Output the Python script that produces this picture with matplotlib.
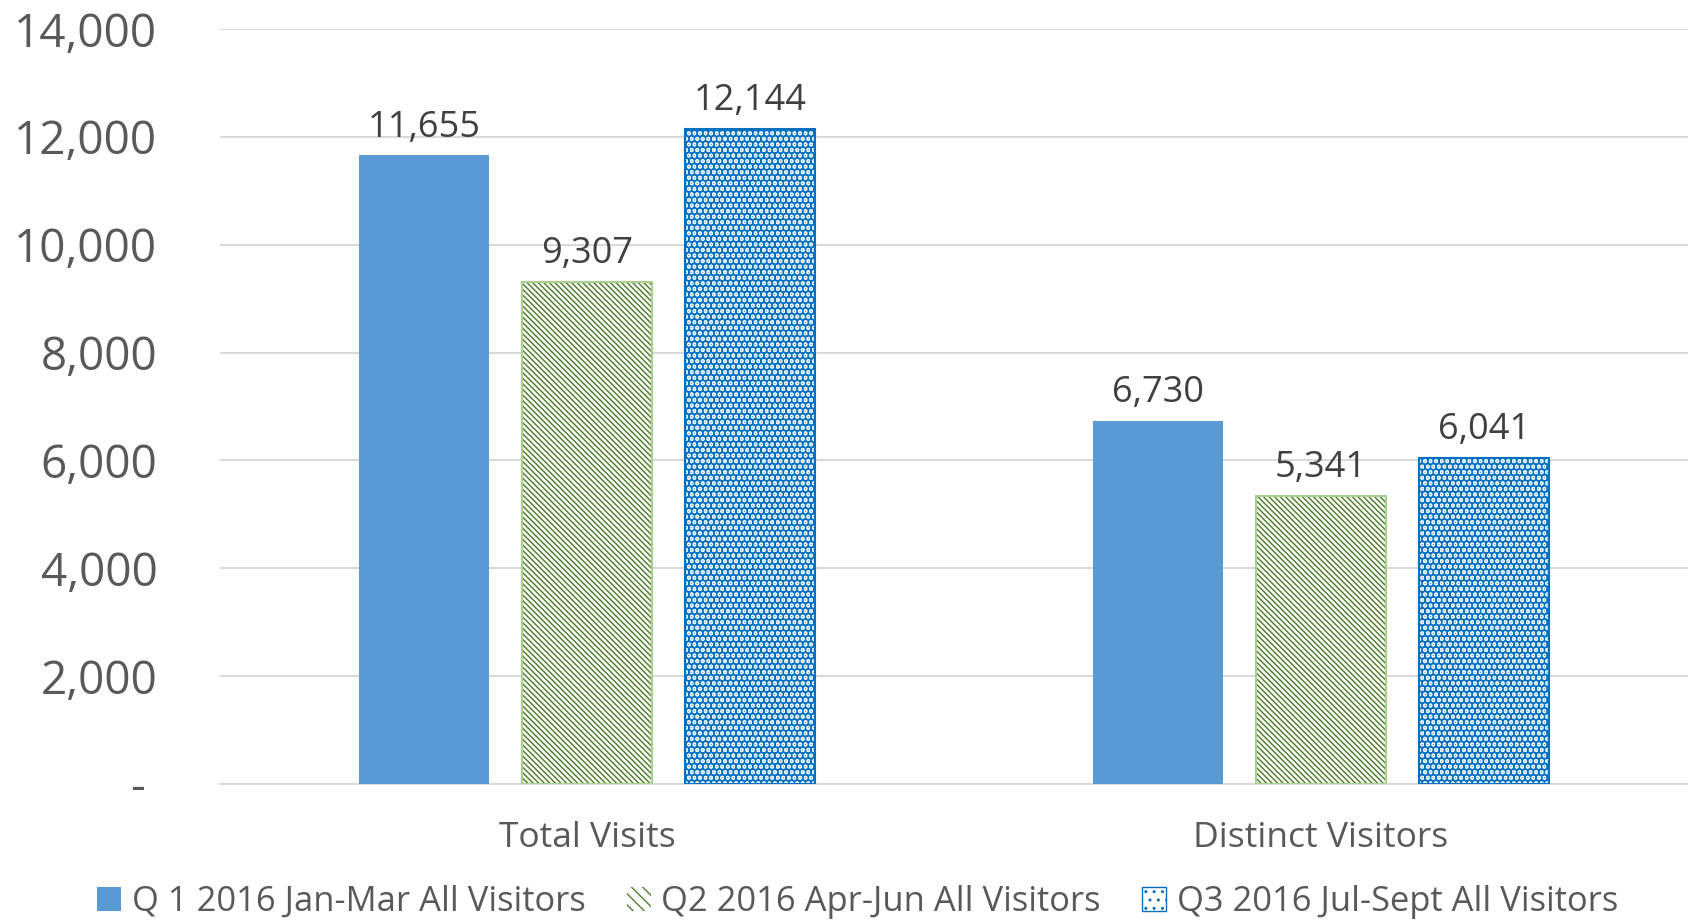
import matplotlib
matplotlib.use("Agg")
import matplotlib.pyplot as plt
from matplotlib.patches import Patch
import numpy as np

categories = ["Total Visits", "Distinct Visitors"]
series_names = ["Q 1 2016 Jan-Mar All Visitors",
                "Q2 2016 Apr-Jun All Visitors",
                "Q3 2016 Jul-Sept All Visitors"]
q1 = [11655, 6730]
q2 = [9307, 5341]
q3 = [12144, 6041]
yticks = [0, 2000, 4000, 6000, 8000, 10000, 12000, 14000]

plt.rcParams['font.family'] = ['Open Sans', 'DejaVu Sans']
txt = "#595959"
grid = "#D9D9D9"

fig = plt.figure(figsize=(16.88, 9.21), dpi=100)
ax = fig.add_axes([0.1303, 0.1488, 0.8697, 0.8197])

x = np.arange(len(categories))
w = 0.176
off = 0.222

b1 = ax.bar(x - off, q1, w, color="#5B9BD5", zorder=3)
with plt.rc_context({"hatch.linewidth": 1.1}):
    b2 = ax.bar(x, q2, w, color="white", edgecolor="#548235", hatch="\\" * 6, lw=0, zorder=3)
ax.bar(x, q2, w, fill=False, edgecolor="#A9D18E", lw=1.5, zorder=4)
with plt.rc_context({"hatch.linewidth": 4.0}):
    b3 = ax.bar(x + off, q3, w, color="white", edgecolor="#0070C0", hatch="...", lw=0, zorder=3)
ax.bar(x + off, q3, w, fill=False, edgecolor="#0070C0", lw=1.5, zorder=4)

for b in (b1, b2, b3):
    ax.bar_label(b, labels=[f"{v:,.0f}" for v in b.datavalues], padding=7,
                 fontsize=26, color="#404040")

ax.set_xlim(-0.5, 1.5)
ax.set_ylim(0, 14000)
ax.set_yticks(yticks)
ax.set_yticklabels([f"{v:,}" if v else "- " for v in yticks], fontsize=33, color=txt)
ax.set_xticks(x)
ax.set_xticklabels(categories, fontsize=25.5, color=txt)
ax.tick_params(axis="y", length=0, pad=45)
ax.tick_params(axis="x", length=0, pad=27)
ax.yaxis.grid(True, color=grid, lw=1.5, zorder=0)
for s in ["top", "right", "left"]:
    ax.spines[s].set_visible(False)
ax.spines["bottom"].set_color(grid)
ax.spines["bottom"].set_linewidth(1.5)

with plt.rc_context({"hatch.linewidth": 1.0}):
    h2 = Patch(facecolor="white", edgecolor="#548235", hatch="\\\\\\", lw=0)
with plt.rc_context({"hatch.linewidth": 3.0}):
    h3 = Patch(facecolor="white", edgecolor="#0070C0", hatch="..", lw=1)
handles = [Patch(facecolor="#5B9BD5"), h2, h3]
fig.legend(handles, series_names, loc="center", bbox_to_anchor=(0.508, 0.021), ncol=3,
           frameon=False, fontsize=24.8, labelcolor=txt, handlelength=0.7,
           handleheight=0.7, handletextpad=0.3, columnspacing=1.2)

fig.savefig("out.png", dpi=100)
